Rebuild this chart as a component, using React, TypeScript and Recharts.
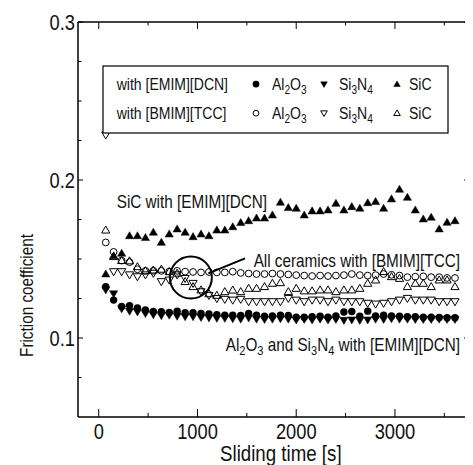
import React from "react";
import { ComposedChart, Line, XAxis, YAxis, ReferenceDot, ReferenceLine } from "recharts";

// Sliding time [s]
const times = [71, 151, 232, 312, 392, 473, 553, 634, 714, 794, 875, 955, 1036, 1116, 1196, 1277, 1357, 1438, 1518, 1598, 1679, 1759, 1840, 1920, 2000, 2081, 2161, 2242, 2322, 2402, 2483, 2563, 2644, 2724, 2804, 2885, 2965, 3046, 3126, 3206, 3287, 3367, 3448, 3528, 3608];

// with [EMIM][DCN]
const al2o3Emim = [0.1325, 0.124, 0.120, 0.1205, 0.119, 0.1178, 0.1168, 0.1166, 0.1162, 0.117, 0.116, 0.116, 0.1155, 0.1152, 0.1148, 0.1145, 0.1145, 0.1142, 0.1155, 0.1145, 0.1138, 0.114, 0.1145, 0.1142, 0.1132, 0.1132, 0.1135, 0.1138, 0.1132, 0.114, 0.1165, 0.1168, 0.1138, 0.117, 0.114, 0.1145, 0.114, 0.1138, 0.1135, 0.1135, 0.1132, 0.1132, 0.113, 0.1128, 0.1128];
const si3n4Emim = [0.1305, 0.128, 0.1185, 0.117, 0.1165, 0.1155, 0.1148, 0.1142, 0.1145, 0.1138, 0.1135, 0.1135, 0.113, 0.1128, 0.1125, 0.1125, 0.1122, 0.112, 0.1128, 0.112, 0.1118, 0.112, 0.1122, 0.112, 0.1115, 0.1118, 0.1115, 0.112, 0.1115, 0.1118, 0.1112, 0.1115, 0.1112, 0.1115, 0.112, 0.1118, 0.1122, 0.112, 0.112, 0.1118, 0.1118, 0.1118, 0.112, 0.1118, 0.1118];
const sicEmim = [0.1405, 0.152, 0.1536, 0.1647, 0.1647, 0.1635, 0.1669, 0.1605, 0.1658, 0.1690, 0.1669, 0.1641, 0.1658, 0.1647, 0.1683, 0.1683, 0.1704, 0.1730, 0.1742, 0.1759, 0.1759, 0.1778, 0.1859, 0.1825, 0.1821, 0.1778, 0.1804, 0.1804, 0.1810, 0.1852, 0.1810, 0.1831, 0.1821, 0.1856, 0.1863, 0.1821, 0.1880, 0.1941, 0.1890, 0.1810, 0.1753, 0.1764, 0.1690, 0.1732, 0.1742];

// with [BMIM][TCC]
const al2o3Bmim = [0.1605, 0.1545, 0.149, 0.148, 0.1435, 0.1425, 0.1425, 0.1425, 0.142, 0.1425, 0.142, 0.1418, 0.1415, 0.1418, 0.1415, 0.1415, 0.142, 0.1412, 0.1408, 0.1405, 0.1405, 0.1408, 0.1405, 0.1402, 0.1398, 0.1395, 0.1392, 0.1395, 0.1392, 0.1395, 0.1398, 0.1405, 0.1398, 0.1395, 0.1398, 0.1405, 0.14, 0.1395, 0.1385, 0.1388, 0.139, 0.1385, 0.1385, 0.138, 0.138];
const si3n4Bmim = [0.2285, 0.142, 0.142, 0.140, 0.1388, 0.140, 0.141, 0.1357, 0.1367, 0.140, 0.1377, 0.1346, 0.1293, 0.127, 0.125, 0.1245, 0.124, 0.1245, 0.123, 0.123, 0.123, 0.123, 0.123, 0.1251, 0.124, 0.123, 0.124, 0.124, 0.123, 0.124, 0.123, 0.123, 0.123, 0.122, 0.1215, 0.122, 0.123, 0.124, 0.1251, 0.124, 0.124, 0.124, 0.123, 0.123, 0.123];
const sicBmim = [0.1683, 0.1515, 0.149, 0.1488, 0.1451, 0.1425, 0.143, 0.1435, 0.142, 0.141, 0.1357, 0.1325, 0.1304, 0.128, 0.127, 0.1293, 0.1303, 0.1293, 0.1314, 0.1314, 0.1325, 0.1346, 0.135, 0.1293, 0.1314, 0.1298, 0.1298, 0.1304, 0.1304, 0.1293, 0.1304, 0.1304, 0.1314, 0.1346, 0.1367, 0.142, 0.1388, 0.1377, 0.1325, 0.1346, 0.1346, 0.1325, 0.1367, 0.1367, 0.1325];

// axes
const xDomain = [-210, 3760];
const yDomain = [0.05, 0.3];
const xTicks = [0, 500, 1000, 1500, 2000, 2500, 3000, 3500];
const xMajor = [0, 1000, 2000, 3000];
const yTicks = [0.075, 0.1, 0.125, 0.15, 0.175, 0.2, 0.225, 0.25, 0.275, 0.3];
const yMajor = [0.1, 0.2, 0.3];

// annotation anchors (data units)
const ringCenter = { x: 933, y: 0.1383 };
const pointerLine = [{ x: 1110, y: 0.1409 }, { x: 1482, y: 0.1504 }];

const data = times.map((t, i) => ({
  t,
  a1: al2o3Emim[i],
  s1: si3n4Emim[i],
  c1: sicEmim[i],
  a2: al2o3Bmim[i],
  s2: si3n4Bmim[i],
  c2: sicBmim[i],
}));

const FONT = "'Liberation Sans', Arial, sans-serif";
const INK = "#111";

type Seg = { t: string; sub?: boolean };

const Rich = ({ x, y, size, anchor = "start", rotate = 0, sx = 0.85, segs }: any) => {
  const d = size * 0.26;
  let prevSub = false;
  const spans = (segs as Seg[]).map((s, i) => {
    let dy = 0;
    if (s.sub && !prevSub) dy = d;
    if (!s.sub && prevSub) dy = -d;
    prevSub = !!s.sub;
    return (
      <tspan key={i} dy={dy || undefined} fontSize={s.sub ? size * 0.72 : size}>
        {s.t}
      </tspan>
    );
  });
  return (
    <text
      transform={`translate(${x},${y}) rotate(${rotate}) scale(${sx},1)`}
      fontSize={size}
      fontFamily={FONT}
      textAnchor={anchor}
      fill={INK}
    >
      {spans}
    </text>
  );
};

const T = (props: any) => <Rich {...props} segs={[{ t: String(props.children) }]} />;

const AL2O3: Seg[] = [{ t: "Al" }, { t: "2", sub: true }, { t: "O" }, { t: "3", sub: true }];
const SI3N4: Seg[] = [{ t: "Si" }, { t: "3", sub: true }, { t: "N" }, { t: "4", sub: true }];

// markers
const mk = (kind: string, cx: number, cy: number, key?: any, s = 1) => {
  const h = 4.1 * s;
  if (kind === "fc") return <circle key={key} cx={cx} cy={cy} r={3.7 * s} fill="#000" />;
  if (kind === "oc") return <circle key={key} cx={cx} cy={cy} r={3.4 * s} fill="none" stroke="#000" strokeWidth={1} />;
  const up = kind === "fu" || kind === "ou";
  const filled = kind === "fu" || kind === "fd";
  const pts = up
    ? `${cx},${cy - h} ${cx - h},${cy + h * 0.72} ${cx + h},${cy + h * 0.72}`
    : `${cx},${cy + h} ${cx - h},${cy - h * 0.72} ${cx + h},${cy - h * 0.72}`;
  return (
    <polygon
      key={key}
      points={pts}
      fill={filled ? "#000" : "none"}
      stroke="#000"
      strokeWidth={filled ? 0.5 : 1}
    />
  );
};

const dotFn = (kind: string) => (p: any) => mk(kind, p.cx, p.cy, `${kind}-${p.index}`);

const XTickBottom = ({ x, y, payload }: any) => {
  const major = xMajor.includes(payload.value);
  return (
    <g>
      <line x1={x} y1={y} x2={x} y2={y - (major ? 8 : 4)} stroke="#000" strokeWidth={1} />
      {major && <T x={x} y={y + 21.5} size={21.5} anchor="middle">{payload.value}</T>}
    </g>
  );
};
const XTickTop = ({ x, y, payload }: any) => {
  const major = xMajor.includes(payload.value);
  return <line x1={x} y1={y} x2={x} y2={y + (major ? 7 : 3.5)} stroke="#000" strokeWidth={1} />;
};
const YTickLeft = ({ x, y, payload }: any) => {
  const major = yMajor.some((m) => Math.abs(m - payload.value) < 1e-9);
  return (
    <g>
      <line x1={x} y1={y} x2={x + (major ? 5 : 3.5)} y2={y} stroke="#000" strokeWidth={1} />
      {major && <T x={x - 3} y={y + 8} size={21.5} anchor="end">{payload.value.toFixed(1)}</T>}
    </g>
  );
};
const YTickRight = ({ x, y, payload }: any) => {
  const major = yMajor.some((m) => Math.abs(m - payload.value) < 1e-9);
  return <line x1={x} y1={y} x2={x - (major ? 6 : 4)} y2={y} stroke="#000" strokeWidth={1} />;
};

const W = 465;
const H = 457;

const Overlay = () => {
  const lf = 16.5;
  const r1 = 82;
  const r2 = 111;
  const m1 = r1 - 5.8;
  const m2 = r2 - 5.8;
  const af = 18;
  return (
    <svg width={W} height={H} style={{ position: "absolute", left: 0, top: 0, pointerEvents: "none" }}>
      {/* legend */}
      <rect x={95} y={58} width={345} height={67} fill="#fff" stroke="#000" strokeWidth={1.2} />
      <T x={108.7} y={r1} size={lf}>with [EMIM][DCN]</T>
      {mk("fc", 248, m1, "l1", 0.9)}
      <Rich x={264} y={r1} size={lf} segs={AL2O3} />
      {mk("fd", 316, m1, "l2", 0.8)}
      <Rich x={331} y={r1} size={lf} segs={SI3N4} />
      {mk("fu", 389, m1, "l3", 0.8)}
      <T x={401} y={r1} size={lf}>SiC</T>

      <T x={108.7} y={r2} size={lf}>with [BMIM][TCC]</T>
      {mk("oc", 248, m2, "l4", 0.85)}
      <Rich x={264} y={r2} size={lf} segs={AL2O3} />
      {mk("od", 316, m2, "l5", 0.8)}
      <Rich x={331} y={r2} size={lf} segs={SI3N4} />
      {mk("ou", 389, m2, "l6", 0.8)}
      <T x={401} y={r2} size={lf}>SiC</T>

      {/* annotations */}
      <T x={108.7} y={200} size={af}>SiC with [EMIM][DCN]</T>
      <T x={452} y={258.7} size={af} anchor="end">All ceramics with [BMIM][TCC]</T>
      <Rich
        x={452}
        y={342.7}
        size={af}
        anchor="end"
        segs={[...AL2O3, { t: " and " }, ...SI3N4, { t: " with [EMIM][DCN]" }]}
      />

      {/* axis titles */}
      <T x={272.8} y={453} size={22} anchor="middle">Sliding time [s]</T>
      <T x={25.3} y={287.5} size={18} anchor="middle" rotate={-90}>Friction coefficient</T>
    </svg>
  );
};

export default function App() {
  return (
    <div style={{ position: "relative", width: W, height: H }}>
      <ComposedChart width={W} height={H} data={data} margin={{ top: 13, right: 2, bottom: 0, left: 0 }}>
        <XAxis
          xAxisId="b"
          dataKey="t"
          type="number"
          domain={xDomain}
          ticks={xTicks}
          interval={0}
          allowDataOverflow
          height={48}
          tickSize={0}
          tickMargin={0}
          tickLine={false}
          tick={<XTickBottom />}
          axisLine={{ stroke: "#000", strokeWidth: 1.5 }}
        />
        <XAxis
          xAxisId="t"
          orientation="top"
          dataKey="t"
          type="number"
          domain={xDomain}
          ticks={xTicks}
          interval={0}
          allowDataOverflow
          height={1}
          tickSize={0}
          tickMargin={0}
          tickLine={false}
          tick={<XTickTop />}
          axisLine={{ stroke: "#000", strokeWidth: 1.5 }}
        />
        <YAxis
          yAxisId="l"
          type="number"
          domain={yDomain}
          ticks={yTicks}
          interval={0}
          allowDataOverflow
          width={70}
          tickSize={0}
          tickMargin={0}
          tickLine={false}
          tick={<YTickLeft />}
          axisLine={{ stroke: "#000", strokeWidth: 1.5 }}
        />
        <YAxis
          yAxisId="r"
          orientation="right"
          type="number"
          domain={yDomain}
          ticks={yTicks}
          interval={0}
          allowDataOverflow
          width={1}
          tickSize={0}
          tickMargin={0}
          tickLine={false}
          tick={<YTickRight />}
          axisLine={{ stroke: "#000", strokeWidth: 1.5 }}
        />
        <Line xAxisId="b" yAxisId="l" dataKey="a2" stroke="none" dot={dotFn("oc")} activeDot={false} isAnimationActive={false} legendType="none" />
        <Line xAxisId="b" yAxisId="l" dataKey="s2" stroke="none" dot={dotFn("od")} activeDot={false} isAnimationActive={false} legendType="none" />
        <Line xAxisId="b" yAxisId="l" dataKey="c2" stroke="none" dot={dotFn("ou")} activeDot={false} isAnimationActive={false} legendType="none" />
        <Line xAxisId="b" yAxisId="l" dataKey="s1" stroke="none" dot={dotFn("fd")} activeDot={false} isAnimationActive={false} legendType="none" />
        <Line xAxisId="b" yAxisId="l" dataKey="a1" stroke="none" dot={dotFn("fc")} activeDot={false} isAnimationActive={false} legendType="none" />
        <Line xAxisId="b" yAxisId="l" dataKey="c1" stroke="none" dot={dotFn("fu")} activeDot={false} isAnimationActive={false} legendType="none" />
        <ReferenceDot xAxisId="b" yAxisId="l" x={ringCenter.x} y={ringCenter.y} r={21} fill="none" stroke="#000" strokeWidth={2} />
        <ReferenceLine xAxisId="b" yAxisId="l" segment={pointerLine} stroke="#000" strokeWidth={2} />
      </ComposedChart>
      <Overlay />
    </div>
  );
}
